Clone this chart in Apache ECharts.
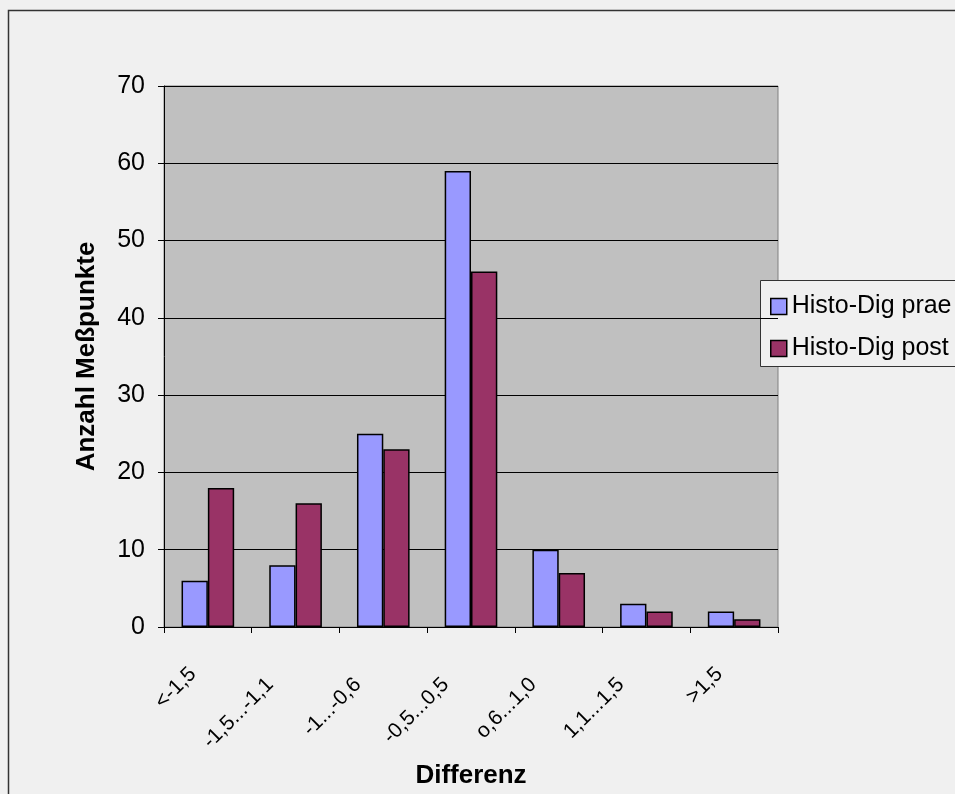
<!DOCTYPE html>
<html>
<head>
<meta charset="utf-8">
<script src="https://cdn.jsdelivr.net/npm/echarts@6/dist/echarts.min.js"></script>
<style>
  html, body { margin: 0; padding: 0; background: #F0F0F0; }
  #chart { width: 955px; height: 794px; }
</style>
</head>
<body>
<div id="chart"></div>
<script>
// Bins of the difference and point counts per series
const categories = ['<-1,5', '-1,5...-1,1', '-1...-0,6', '-0,5...0,5', 'o,6...1,0', '1,1...1,5', '>1,5'];
const praeValues = [6, 8, 25, 59, 10, 3, 2];
const postValues = [18, 16, 23, 46, 7, 2, 1];
const seriesNames = ['Histo-Dig prae', 'Histo-Dig post'];
const yTicks = { min: 0, max: 70, interval: 10 };

const font = 'Liberation Sans, Arial, sans-serif';
const chart = echarts.init(document.getElementById('chart'), null, { renderer: 'canvas' });

// short bin labels sit a little closer to their tick than the long ones
const categoryItems = categories.map(function (c) {
  const pad = c.length <= 5 ? 21 : 36;
  return { value: c, textStyle: { padding: [0, pad, 0, 0] } };
});

chart.setOption({
  backgroundColor: '#F0F0F0',
  animation: false,
  textStyle: { fontFamily: font },
  graphic: [
    // outer chart frame
    { type: 'rect', z: 0, shape: { x: 8.5, y: 10.5, width: 960, height: 800 },
      style: { fill: 'none', stroke: '#333', lineWidth: 1.5 } },
    // legend frame
    { type: 'rect', z: 0, shape: { x: 760.5, y: 280.5, width: 220, height: 86 },
      style: { fill: '#F0F0F0', stroke: '#333', lineWidth: 1 } }
  ],
  grid: {
    left: 164, right: 177, top: 86, bottom: 166,
    show: true, backgroundColor: '#C0C0C0', borderColor: '#808080', borderWidth: 1
  },
  legend: {
    orient: 'vertical', left: 765, top: 289, itemGap: 17,
    itemWidth: 16, itemHeight: 16, icon: 'rect',
    textStyle: { fontSize: 25, color: '#000', fontFamily: font },
    itemStyle: { borderColor: '#000', borderWidth: 1.5 },
    data: seriesNames
  },
  xAxis: {
    type: 'category',
    data: categoryItems,
    name: 'Differenz',
    nameLocation: 'middle',
    nameGap: 136,
    nameTextStyle: { fontSize: 26, fontWeight: 'bold', color: '#000', fontFamily: font },
    axisLine: { lineStyle: { color: '#000', width: 1 } },
    axisTick: { show: true, length: 6, inside: false, lineStyle: { color: '#000' } },
    axisLabel: { rotate: 45, fontSize: 21, color: '#000', margin: 29, interval: 0,
                 fontFamily: font }
  },
  yAxis: {
    type: 'value',
    min: yTicks.min, max: yTicks.max, interval: yTicks.interval,
    name: 'Anzahl Meßpunkte',
    nameLocation: 'middle',
    nameGap: 64,
    nameTextStyle: { fontSize: 26, fontWeight: 'bold', color: '#000', fontFamily: font },
    axisLine: { show: true, lineStyle: { color: '#000', width: 1 } },
    axisTick: { show: true, length: 6, lineStyle: { color: '#000' } },
    axisLabel: { fontSize: 25, color: '#000', margin: 19, fontFamily: font },
    splitLine: { show: true, lineStyle: { color: '#000', width: 1 } }
  },
  series: [
    {
      name: seriesNames[0], type: 'bar', data: praeValues,
      barGap: '0%', barCategoryGap: '40%',
      itemStyle: { color: '#9999FF', borderColor: '#000', borderWidth: 1.5 }
    },
    {
      name: seriesNames[1], type: 'bar', data: postValues,
      itemStyle: { color: '#993366', borderColor: '#000', borderWidth: 1.5 }
    }
  ]
});
</script>
</body>
</html>
